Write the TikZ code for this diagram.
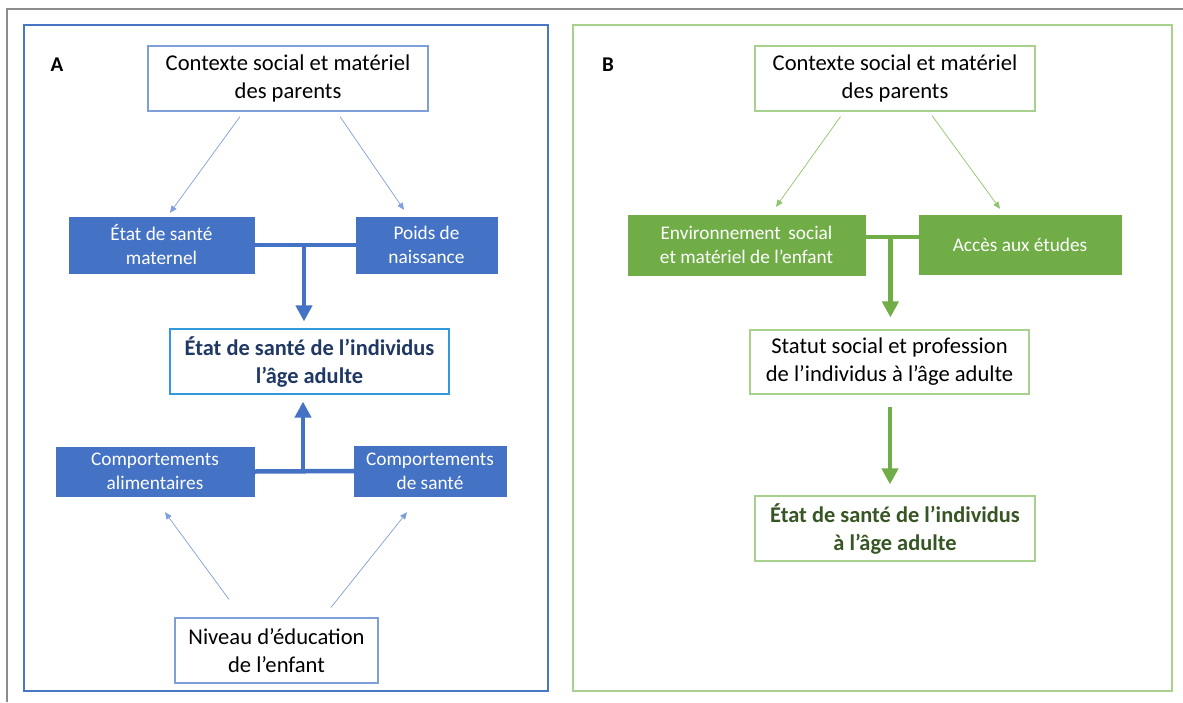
\documentclass[tikz,border=0pt]{standalone}
\usepackage{fontspec}
\setmainfont{Carlito}
\usetikzlibrary{arrows.meta,calc}
\definecolor{bfill}{HTML}{4472C4}
\definecolor{bpanel}{HTML}{4A76C6}
\definecolor{bline}{HTML}{7F9FDC}
\definecolor{bcyan}{HTML}{3399DD}
\definecolor{bdark}{HTML}{203864}
\definecolor{gfill}{HTML}{70AD47}
\definecolor{gpanel}{HTML}{A9D18E}
\definecolor{gline}{HTML}{8CC56B}
\definecolor{gdark}{HTML}{375623}
\definecolor{frame}{HTML}{8C8C8C}
\tikzset{
  big/.style={font=\fontsize{22.6}{28}\selectfont},
  bigbold/.style={font=\fontsize{22.4}{28}\selectfont\bfseries},
  small/.style={font=\fontsize{19.3}{24}\selectfont},
  wbox/.style={draw=#1, line width=1.2pt, fill=white, align=center, big, inner sep=0pt},
  fbox/.style={draw=#1, fill=#1, text=white, align=center, small, inner sep=0pt},
  thinarr/.style={draw=#1, line width=0.7pt, -{Triangle[width=6pt,length=7pt]}},
  thickline/.style={draw=#1, line width=4.5pt},
  thickarr/.style={draw=#1, line width=4.5pt, -{Triangle[width=16pt,length=16pt]}},
  panel/.style={draw=#1, line width=1.3pt},
  letter/.style={font=\fontsize{21}{24}\selectfont\bfseries}
}
\begin{document}
\begin{tikzpicture}[x=1pt,y=-1pt]
\useasboundingbox (0,0) rectangle (1183,702);
\fill[white] (0,0) rectangle (1183,702);
% outer frame
\draw[frame, line width=1.5pt] (7,702) -- (7,9) -- (1183,9);
% panels
\draw[panel=bpanel] (24,25) rectangle (548,691);
\draw[panel=gpanel] (573,25) rectangle (1172,691);
\node[letter] (labA) at (57,65) {A};
\node[letter] (labB) at (608,65) {B};

% ---------- Panel A ----------
\node[wbox=bline, minimum width=280pt, minimum height=65pt] (ctxA) at (288,78.5) {Contexte social et matériel\\des parents};
\node[fbox=bfill, minimum width=185pt, minimum height=56pt] (matA) at (161.5,245) {État de santé\\maternel};
\node[fbox=bfill, minimum width=141pt, minimum height=56pt] (poidsA) at (426.5,245) {Poids de\\naissance};
\node[wbox=bcyan, minimum width=279pt, minimum height=65pt, text=bdark, bigbold] (etatA) at (309.5,361.5) {État de santé de l’individus\\l’âge adulte};
\node[fbox=bfill, minimum width=198pt, minimum height=49pt] (alimA) at (155,471.5) {Comportements\\alimentaires};
\node[fbox=bfill, minimum width=152pt, minimum height=50pt] (comsA) at (430,471) {Comportements\\de santé};
\node[wbox=bline, minimum width=203pt, minimum height=65pt] (nivA) at (276.5,650.5) {Niveau d’éducation\\de l’enfant};

\draw[thinarr=bline] ($(ctxA.south)+(-48,5)$) -- ($(matA.north)+(8.5,-4)$);
\draw[thinarr=bline] ($(ctxA.south)+(52,5)$) -- ($(poidsA.north)+(-22.5,-7)$);
\draw[thickline=bfill] (matA.east) -- (poidsA.west);
\coordinate (jA) at ($(matA.east)!0.49!(poidsA.west)$);
\draw[thickarr=bfill] (jA) -- ($(jA |- etatA.north)+(0,-7)$);

\draw[thickline=bfill] (alimA.east) -- (comsA.west);
\coordinate (kA) at ($(alimA.east)!0.49!(comsA.west)$);
\draw[thickarr=bfill] (kA) -- ($(kA |- etatA.south)+(0,7)$);
\draw[thinarr=bline] ($(nivA.north)+(-47.5,-18)$) -- ($(alimA.south)+(10,16)$);
\draw[thinarr=bline] ($(nivA.north)+(54.5,-10)$) -- ($(comsA.south)+(-23,16)$);

% ---------- Panel B ----------
\node[wbox=gpanel, minimum width=280pt, minimum height=65pt] (ctxB) at (895,78.5) {Contexte social et matériel\\des parents};
\node[fbox=gfill, minimum width=237pt, minimum height=60pt] (envB) at (746.5,245) {Environnement\, social\\et matériel de l’enfant};
\node[fbox=gfill, minimum width=202pt, minimum height=59pt] (accB) at (1020,244.5) {Accès aux études};
\node[wbox=gpanel, minimum width=279pt, minimum height=64pt] (statB) at (889.5,362) {Statut social et profession\\de l’individus à l’âge adulte};
\node[wbox=gpanel, minimum width=280pt, minimum height=65pt, text=gdark, bigbold] (etatB) at (895,528.5) {État de santé de l’individus\\à l’âge adulte};

\draw[thinarr=gline] ($(ctxB.south)+(-54.5,5)$) -- ($(envB.north)+(29.5,-8)$);
\draw[thinarr=gline] ($(ctxB.south)+(37,4)$) -- ($(accB.north)+(-20,-6)$);
\coordinate (eB) at ($(envB.east)+(0,-8)$);
\draw[thickline=gfill] (eB) -- (eB -| accB.west);
\coordinate (jB) at ($(eB)!0.47!(eB -| accB.west)$);
\draw[thickarr=gfill] (jB) -- ($(jB |- statB.north)+(0,-12)$);
\draw[thickarr=gfill] ($(statB.south)+(0.5,12)$) -- ($(statB.south |- etatB.north)+(0.5,-11)$);
\end{tikzpicture}
\end{document}
